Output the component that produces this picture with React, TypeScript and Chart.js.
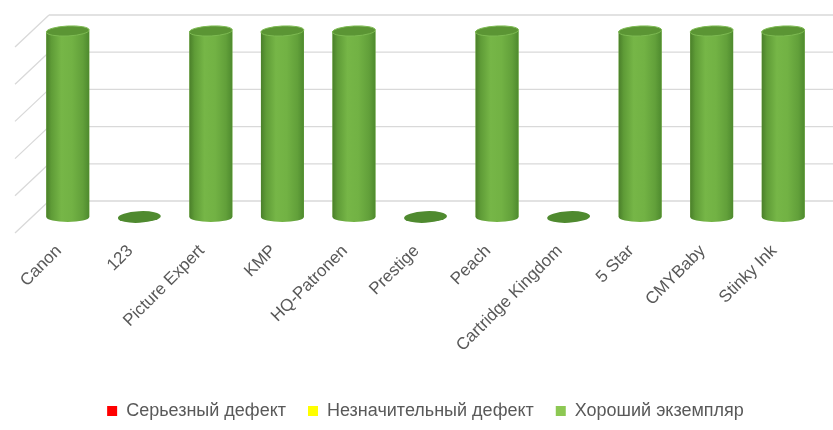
import React, { useEffect, useRef } from "react";
import { Chart, registerables } from "chart.js";

Chart.register(...registerables);

const categories = [
  "Canon",
  "123",
  "Picture Expert",
  "KMP",
  "HQ-Patronen",
  "Prestige",
  "Peach",
  "Cartridge Kingdom",
  "5 Star",
  "CMYBaby",
  "Stinky Ink",
];
const seriousDefect = [0, 0, 0, 0, 0, 0, 0, 0, 0, 0, 0];
const minorDefect = [0, 0, 0, 0, 0, 0, 0, 0, 0, 0, 0];
const goodSample = [1, 0, 1, 1, 1, 0, 1, 0, 1, 1, 1];
const seriesNames = ["Серьезный дефект", "Незначительный дефект", "Хороший экземпляр"];
const yMax = 1;
const yStep = 0.2;

const FONT = "'Liberation Sans', Arial, sans-serif";

const wallPlugin = {
  id: "wall3d",
  beforeDatasetsDraw(chart: any) {
    const ctx = chart.ctx;
    const ys = chart.scales.y;
    const { left, right } = chart.chartArea;
    const dx = 17;
    const dy = 16;
    ctx.save();
    ctx.strokeStyle = "#D9D9D9";
    ctx.lineWidth = 1.3;
    ys.ticks.forEach((t: any) => {
      const py = ys.getPixelForValue(t.value);
      ctx.beginPath();
      ctx.moveTo(left + dx, py - dy);
      ctx.lineTo(right + dx, py - dy);
      ctx.moveTo(left - dx, py + dy);
      ctx.lineTo(left + dx, py - dy);
      ctx.stroke();
    });
    ctx.restore();
  },
};

const cylinderPlugin = {
  id: "cylinders",
  afterDatasetsDraw(chart: any) {
    const ctx = chart.ctx;
    const meta = chart.getDatasetMeta(2);
    ctx.save();
    meta.data.forEach((el: any) => {
      const { x, y, base, width } = el.getProps(["x", "y", "base", "width"], true);
      const rx = width / 2;
      const ry = 5;
      const l = x - rx;
      const r = x + rx;
      if (Math.abs(base - y) < 1) {
        ctx.beginPath();
        ctx.ellipse(x, base, rx, ry + 0.8, -0.05, 0, Math.PI * 2);
        ctx.fillStyle = "#4F8A2F";
        ctx.fill();
        return;
      }
      const g = ctx.createLinearGradient(l, 0, r, 0);
      g.addColorStop(0, "#4A7F2A");
      g.addColorStop(0.12, "#5F9C37");
      g.addColorStop(0.35, "#76B647");
      g.addColorStop(0.6, "#72B244");
      g.addColorStop(0.85, "#62A03A");
      g.addColorStop(1, "#4E8A2E");
      ctx.beginPath();
      ctx.moveTo(l, y);
      ctx.lineTo(l, base);
      ctx.ellipse(x, base, rx, ry, 0, Math.PI, 0, true);
      ctx.lineTo(r, y);
      ctx.closePath();
      ctx.fillStyle = g;
      ctx.fill();
      ctx.beginPath();
      ctx.ellipse(x, y, rx, ry, -0.05, 0, Math.PI * 2);
      ctx.fillStyle = "#5B9534";
      ctx.fill();
      ctx.strokeStyle = "#7DBA52";
      ctx.lineWidth = 1;
      ctx.stroke();
    });
    ctx.restore();
  },
};

export default function App() {
  const ref = useRef<HTMLCanvasElement>(null);
  useEffect(() => {
    if (!ref.current) return;
    const chart = new Chart(ref.current, {
      type: "bar",
      data: {
        labels: categories,
        datasets: [
          { label: seriesNames[0], data: seriousDefect, backgroundColor: "#FF0000", borderWidth: 0 },
          { label: seriesNames[1], data: minorDefect, backgroundColor: "#FFFF00", borderWidth: 0 },
          { label: seriesNames[2], data: goodSample, backgroundColor: "#8DC853", borderWidth: 0 },
        ],
      },
      options: {
        responsive: false,
        animation: false,
        barPercentage: 0.6,
        categoryPercentage: 1,
        layout: { padding: { top: 31, left: 32, right: 14, bottom: 0 } },
        plugins: {
          tooltip: { enabled: false },
          legend: {
            position: "bottom",
            labels: {
              boxWidth: 10,
              boxHeight: 10,
              padding: 22,
              color: "#595959",
              font: { family: FONT, size: 18 },
            },
          },
        },
        scales: {
          x: {
            stacked: true,
            grid: { display: false, drawTicks: false },
            border: { display: false },
            ticks: {
              color: "#595959",
              font: { family: FONT, size: 17 },
              minRotation: 45,
              maxRotation: 45,
              autoSkip: false,
              padding: 24,
              labelOffset: -9,
            },
            afterFit: (s: any) => {
              s.paddingLeft = 0;
              s.paddingRight = 0;
              s.height = 163;
            },
          },
          y: {
            display: false,
            stacked: true,
            min: 0,
            max: yMax,
            ticks: { stepSize: yStep },
          },
        },
      },
      plugins: [wallPlugin, cylinderPlugin],
    });
    return () => chart.destroy();
  }, []);
  return (
    <div style={{ position: "absolute", left: 0, top: 0, width: 833, height: 430, background: "#fff" }}>
      <canvas ref={ref} width={833} height={430} />
    </div>
  );
}
